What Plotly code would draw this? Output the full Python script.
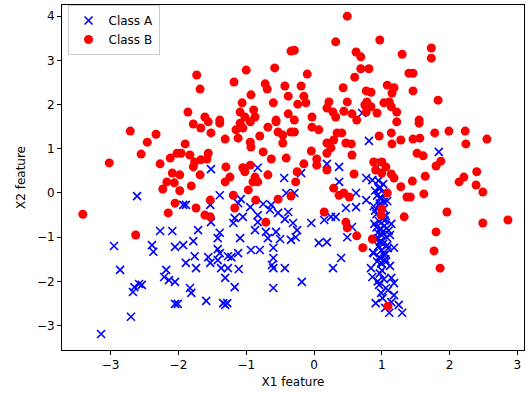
import plotly.graph_objects as go

# Class A (blue x)
a_x = [-2.61, -2.27, -2.09, 0.71,
       -1.52, -0.83, -0.44, -1.39, -1.08, -1.93, -1.89, -1.53, -1.12, -0.94, -0.75, -0.63, -0.41, -0.65,
       -0.83, -0.53, -0.38, -1.17, -1.05, -1.19, -1.52, -0.83, -0.43, -0.31, -1.71, -1.39, -0.87, -0.71, -0.56,
       0.81, 0.19, 0.37, -0.19, 0.37, 0.77, 0.86, 0.99, 0.62, -0.29, 0.77, 0.47, 0.62, 0.25, 0.32, 0.15, -0.04,
       -0.25, 0.56, 1.84,
       -0.27, 0.07, 0.19, 0.49, 0.40, 0.28, -0.18,
       0.88, 0.84, 0.86, 0.96, 0.99, 0.91, 1.14, 1.18, 1.14, 1.18, 1.25, 1.30, 1.11, 1.18, 1.06,
       -2.95, -2.39, -2.37, -2.05, -2.86, -2.18, -2.21, -2.14, -2.05, -2.65, -2.58, -2.54, -2.67, -2.05, -2.70, -3.14,
       -1.93, -1.78, -1.42, -1.09, -0.68, -0.50, -0.34, -1.76, -1.89, -1.74, -1.56, -1.53, -1.42, -1.39, -1.27,
       -1.22, -1.12, -1.42, -1.37, -1.27, -1.11, -1.31, -0.93, -0.80, -0.60, -0.60, -0.62, -0.60, -0.43, -1.17,
       -0.60, -1.83, -1.81, -2.01, -1.59, -1.34, -1.28, -1.31,
       0.95, 1.02, 0.98, 0.90, 1.05, 0.93, 1.00, 1.08, 0.97, 0.88, 1.03, 0.99, 0.92, 1.06, 1.01, 0.96, 0.89,
       1.04, 0.98, 1.10, 0.94, 1.00, 1.07, 0.91, 0.97, 1.02, 0.95, 1.09, 0.99, 0.87, 1.03, 0.96, 1.05, 0.93,
       1.00, 1.12, 0.98, 0.90, 1.04, 1.01, 0.95, 1.08, 0.97, 1.02, 0.92, 1.06, 0.99, 1.14, 0.96, 1.03,
       1.00, 0.97, 1.03, 1.06, 0.94, 1.01, 1.09, 0.98, 1.12, 1.05]
a_y = [-0.07, -0.86, -0.86, 1.81,
       0.54, 0.57, 0.34, -0.05, -0.14, -0.27, -0.27, -0.27, -0.23, -0.32, -0.25, -0.27, 0.00, -0.38,
       -0.50, -0.45, -0.43, -0.57, -0.54, -0.68, -0.66, -0.66, -0.59, -0.68, -0.84, -0.90, -0.84, -0.88, -0.88,
       1.18, 0.66, 0.59, 0.45, 0.25, 0.34, 0.29, 0.68, 0.00, 0.00, -0.16, -0.34, -0.32, -0.54, -0.54, -0.61, -0.68,
       -0.84, -0.77, 0.93,
       -1.00, -1.13, -1.11, -1.00, -1.47, -1.70, -2.01,
       -1.36, -1.70, -1.90, -2.08, -2.26, -2.49, -2.47, -2.31, -1.92, -2.04, -2.53, -2.71, -2.71, -1.24, -1.56,
       -1.20, -1.18, -1.33, -1.22, -1.74, -1.74, -1.90, -1.97, -2.01, -2.13, -2.06, -2.08, -2.24, -2.51, -2.80, -3.19,
       -1.18, -1.09, -1.02, -1.02, -1.02, -1.04, -1.06, -1.43, -1.58, -1.70, -1.45, -1.58, -1.27, -1.36, -1.43,
       -1.45, -1.36, -1.52, -1.70, -1.70, -1.72, -1.92, -1.29, -1.29, -1.24, -1.47, -1.63, -1.70, -1.70, -2.13,
       -2.15, -2.15, -2.26, -2.51, -2.44, -2.49, -2.49, -2.53,
       0.28, 0.20, 0.12, 0.05, 0.00, -0.06, -0.12, -0.18, -0.24, -0.30, -0.36, -0.42, -0.48, -0.52, -0.58, -0.64, -0.70,
       -0.74, -0.80, -0.85, -0.90, -0.95, -1.00, -1.05, -1.10, -1.15, -1.20, -1.25, -1.30, -1.35, -1.40, -1.45, -1.50, -1.55,
       -1.60, -1.65, -0.10, -0.40, -0.62, -0.88, -1.02, -1.18, -0.30, -0.55, -0.78, -1.38, -1.58, -0.70, 0.10, -0.20,
       -1.75, -1.82, -1.95, -2.15, -2.00, -2.38, -2.20, -1.10, -0.95, -2.60]

# Class B (red circles)
b_x = [-2.71, -2.33, -2.46, -2.55, -3.02, -2.27, -2.12, -2.02, -2.09, -2.17, -2.06, -2.23, -2.05, -2.15, -3.41, -2.63,
       -0.34, -1.73, -1.68, -1.00, -0.58, -1.18, -0.72, -0.69, -0.43, -0.93, -0.38, -1.06, -0.60, -1.86, -1.61, -1.09,
       -0.89, -1.02, -0.87, -0.38, -1.39, -0.56,
       0.49, 0.32, 0.97, -0.29, 0.62, 0.69, 1.30, 1.40, -0.10, 0.69, 0.81, 0.60, -0.19, 0.43, 1.08, 1.18, 1.15, 0.77,
       0.84, -0.15, -0.24, -0.12, 0.22, 0.49, 0.78, 0.75, 0.84, 1.03, 1.11, 1.14, 0.19, 0.28, 0.44, -0.03, 0.32, 0.56,
       0.77, 0.93, 1.22, -0.29,
       1.73, 1.73, 1.46, 1.46, 1.83, 1.55,
       -1.78, -1.56, -1.39, -1.09, -0.94, -0.68, -0.56, -1.67, -1.52, -1.15, -1.05, -0.80, -0.53, -0.46, -0.34, -1.90,
       -1.31, -1.12, -0.94, -0.93, -0.46, -1.96, -1.83, -1.56, -0.75, -1.76, -1.67, -1.58, -1.78, -0.41, -0.63, -1.30,
       -1.05, -0.94, -1.02, -1.68, -1.98, -0.87, -0.68, -1.24, -1.31, -0.90, -0.83, -1.81, -1.98, -0.97, -1.19, -0.86,
       -0.53, -0.34, -1.53, -1.74, -1.17, -1.61, -1.53, -0.71,
       -0.03, 0.07, -0.29, 0.34, 0.41, 0.63, 1.22, 0.96, 1.14, 1.28, 1.15, 0.29, 0.19, 0.47, 0.55, 0.25, -0.04, 0.19,
       0.56, 0.04, -0.15, 0.04, 0.19, 0.88, 1.00, 1.06, 0.91, 1.00, 1.14, 1.18, 0.59, -0.25, -0.27, 1.28, 1.37, 0.29,
       0.37, 0.44, 0.52, 1.08, 0.15, 1.00, 0.99, 1.33, 0.47, 0.49,
       1.55, 1.78, 1.99, 2.23, 1.46, 1.56, 2.24, 2.55, 1.52, 1.61, 1.87, 1.80, 2.40, 1.64, 1.45, 2.21, 2.14, 2.39,
       2.49, 1.62, 1.42, 1.96, 2.49, 2.86, 1.80,
       1.77, 1.86, 0.63, 0.86, 0.72, 1.09]
b_y = [1.40, 1.33, 1.15, 0.88, 0.68, 0.66, 0.79, 0.90, 0.45, 0.25, 0.23, 0.09, -0.23, -0.45, -0.48, -0.95,
       3.21, 2.67, 2.35, 2.78, 2.83, 2.51, 2.47, 2.35, 2.42, 2.22, 2.19, 2.04, 2.04, 1.83, 1.72, 1.83,
       1.88, 1.72, 1.72, 1.79, 1.65, 1.65,
       4.00, 3.42, 3.46, 3.23, 3.19, 3.08, 3.14, 2.71, 2.69, 2.81, 2.81, 2.62, 2.42, 2.38, 2.44, 2.38, 2.26, 2.31,
       2.28, 2.19, 2.01, 2.04, 2.06, 2.06, 2.06, 1.99, 1.95, 2.04, 2.06, 1.95, 1.92, 1.83, 1.85, 1.72, 1.72, 1.79,
       1.83, 1.81, 1.83, 1.65,
       3.28, 3.05, 2.71, 2.31, 2.10, 1.65,
       1.56, 1.61, 1.58, 1.58, 1.61, 1.49, 1.61, 1.47, 1.36, 1.43, 1.47, 1.29, 1.38, 1.31, 1.38, 1.11,
       1.22, 1.24, 1.15, 1.04, 1.13, 0.90, 0.86, 0.90, 0.93, 0.70, 0.75, 0.77, 0.59, 0.79, 0.77, 0.59,
       0.57, 0.63, 0.48, 0.41, 0.41, 0.36, 0.41, 0.36, 0.25, 0.25, 0.25, 0.16, 0.05, 0.07, -0.05, -0.16,
       -0.14, -0.07, -0.16, -0.34, -0.34, -0.50, -0.54, -0.66,
       1.49, 1.43, 1.38, 1.36, 1.36, 1.65, 1.61, 1.29, 1.36, 1.20, 1.11, 1.20, 1.13, 1.13, 1.11, 1.02, 0.95, 0.90,
       0.86, 0.77, 0.66, 0.63, 0.52, 0.70, 0.70, 0.59, 0.52, 0.45, 0.43, 0.34, 0.43, 0.48, 0.25, 0.14, -0.09, 0.11,
       -0.05, 0.00, -0.09, 0.00, -0.43, -0.36, -0.50, -0.54, -0.66, -0.79,
       1.58, 1.36, 1.40, 1.40, 1.22, 1.24, 1.11, 1.22, 0.90, 0.84, 0.72, 0.61, 0.48, 0.38, 0.27, 0.36, 0.25, 0.18,
       0.02, -0.02, -0.09, -0.43, -0.68, -0.61, -0.88,
       -1.31, -1.70, -0.97, -1.04, -1.24, -2.56]

x_ticks = [-3, -2, -1, 0, 1, 2, 3]
y_ticks = [-3, -2, -1, 0, 1, 2, 3, 4]

fig = go.Figure()
fig.add_trace(go.Scatter(x=a_x, y=a_y, mode="markers", name="Class A",
                         marker=dict(symbol="x-thin", size=8, color="blue",
                                     line=dict(color="blue", width=1.6))))
fig.add_trace(go.Scatter(x=b_x, y=b_y, mode="markers", name="Class B",
                         marker=dict(symbol="circle", size=9, color="red",
                                     line=dict(width=0))))

axis_common = dict(showgrid=False, zeroline=False, showline=True, linecolor="black",
                   linewidth=1, mirror=True, ticks="outside", ticklen=4, tickwidth=1,
                   tickcolor="black", tickfont=dict(size=12, color="black"))
fig.update_xaxes(range=[-3.717, 3.097], tickvals=x_ticks,
                 title=dict(text="X1 feature", font=dict(size=12, color="black"), standoff=6),
                 **axis_common)
fig.update_yaxes(range=[-3.552, 4.253], tickvals=y_ticks,
                 title=dict(text="X2 feature", font=dict(size=12, color="black"), standoff=8),
                 **axis_common)

fig.update_layout(
    width=527, height=396,
    margin=dict(l=62, r=3, t=5, b=46),
    paper_bgcolor="white", plot_bgcolor="white",
    font=dict(family="DejaVu Sans", size=12, color="black"),
    legend=dict(x=0.012, y=1.0, xanchor="left", yanchor="top",
                bgcolor="rgba(255,255,255,0.8)", bordercolor="#cccccc", borderwidth=1,
                font=dict(size=12), itemwidth=30, tracegroupgap=2),
    showlegend=True,
)

fig.write_html("out.html")
